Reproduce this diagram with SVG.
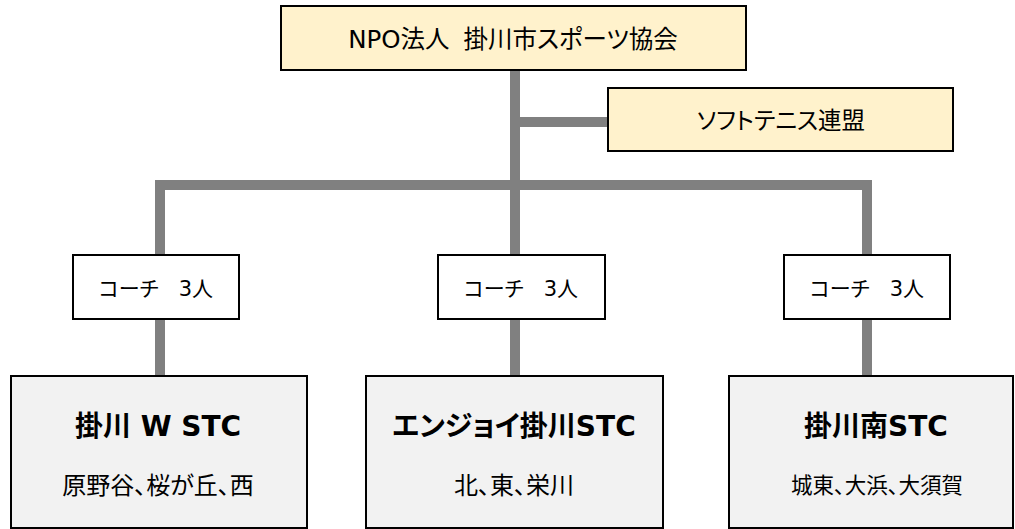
<svg xmlns="http://www.w3.org/2000/svg" width="1015" height="529" viewBox="0 0 1015 529">
<style>
.conn{fill:none;stroke:#808080;stroke-width:10;stroke-linejoin:miter}
.org{fill:#FFF2CC;stroke:#000;stroke-width:2}
.coach{fill:#FFFFFF;stroke:#000;stroke-width:2}
.club{fill:#F2F2F2;stroke:#000;stroke-width:2}
text{font-family:"DejaVu Sans","Noto Sans CJK JP",sans-serif;fill:#000;text-anchor:middle;dominant-baseline:central;font-feature-settings:"palt" 1}
.top{font-size:24.5px}
.fed{font-size:23.5px}
.co{font-size:21px}
.title{font-size:28px;font-weight:bold}
.sub{font-size:24px}
</style>
<rect width="1015" height="529" fill="#FFFFFF"/>
<g id="connectors">
<path class="conn" d="M515,70 V376"/>
<path class="conn" d="M515,122 H608"/>
<path class="conn" d="M160,376 V185 H867 V376"/>
</g>
<g id="npo">
<rect class="org" x="281" y="6" width="465" height="64"/>
<text class="top" x="513" y="39">NPO法人<tspan dx="14">掛川市スポーツ協会</tspan></text>
</g>
<g id="renmei">
<rect class="org" x="608" y="88" width="345" height="63"/>
<text class="fed" x="781" y="121">ソフトテニス連盟</text>
</g>
<g id="coach1">
<rect class="coach" x="73" y="255" width="166" height="64"/>
<text class="co" x="156" y="289">コーチ<tspan dx="20">3人</tspan></text>
</g>
<g id="coach2">
<rect class="coach" x="438" y="255" width="167" height="64"/>
<text class="co" x="521" y="289">コーチ<tspan dx="20">3人</tspan></text>
</g>
<g id="coach3">
<rect class="coach" x="784" y="255" width="166" height="64"/>
<text class="co" x="867" y="289">コーチ<tspan dx="20">3人</tspan></text>
</g>
<g id="club1">
<rect class="club" x="11" y="376" width="296" height="152"/>
<text class="title" x="158" y="426">掛川 W STC</text>
<text class="sub" x="158" y="486">原野谷、桜が丘、西</text>
</g>
<g id="club2">
<rect class="club" x="366" y="376" width="297" height="152"/>
<text class="title" x="514" y="426">エンジョイ掛川STC</text>
<text class="sub" x="514" y="486">北、東、栄川</text>
</g>
<g id="club3">
<rect class="club" x="729" y="376" width="284" height="152"/>
<text class="title" x="876" y="426">掛川南STC</text>
<text class="sub" style="font-size:21.5px" x="877" y="485">城東、大浜、大須賀</text>
</g>
</svg>
